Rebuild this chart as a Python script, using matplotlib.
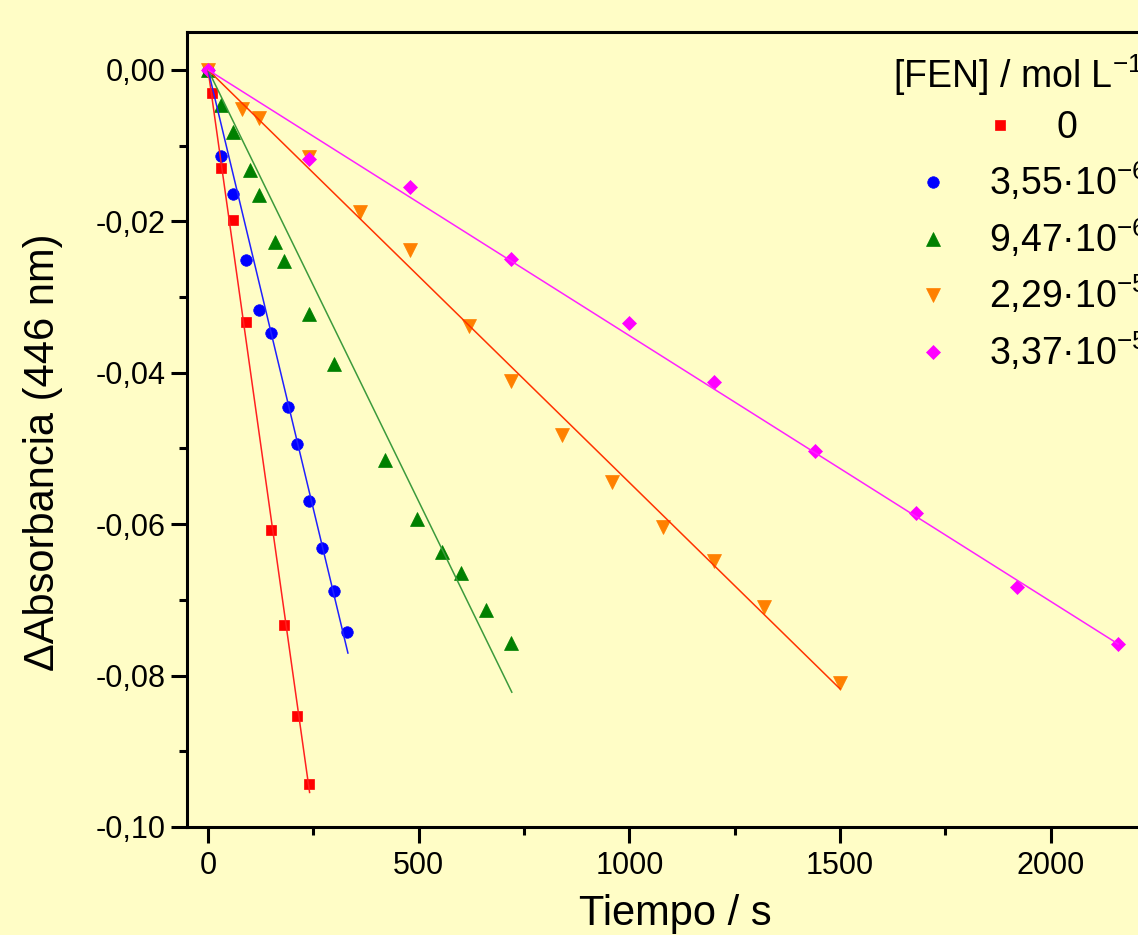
import matplotlib

matplotlib.use("Agg")
import matplotlib.pyplot as plt
from matplotlib.lines import Line2D
from matplotlib.ticker import FuncFormatter, MultipleLocator
import numpy as np

plt.rcParams["font.family"] = ["Liberation Sans", "DejaVu Sans"]
plt.rcParams["mathtext.fontset"] = "custom"
plt.rcParams["mathtext.rm"] = "Liberation Sans"
plt.rcParams["mathtext.default"] = "regular"

# data: time / s and delta absorbance
t_0 = [0, 10, 30, 60, 90, 150, 180, 210, 240]
a_0 = [0, -0.0030, -0.0129, -0.0198, -0.0333, -0.0608, -0.0733, -0.0853, -0.0943]

t_1 = [0, 30, 60, 90, 120, 150, 190, 210, 240, 270, 300, 330]
a_1 = [0, -0.0114, -0.0164, -0.0251, -0.0317, -0.0347, -0.0445, -0.0494,
       -0.0569, -0.0632, -0.0688, -0.0742]

t_2 = [0, 30, 60, 100, 120, 160, 180, 240, 300, 420, 495, 555, 600, 660, 720]
a_2 = [0, -0.0047, -0.0082, -0.0132, -0.0165, -0.0228, -0.0253, -0.0323,
       -0.0389, -0.0515, -0.0593, -0.0637, -0.0665, -0.0713, -0.0757]

t_3 = [0, 80, 120, 240, 360, 480, 620, 720, 840, 960, 1080, 1200, 1320, 1500]
a_3 = [0, -0.0052, -0.0063, -0.0115, -0.0188, -0.0238, -0.0338, -0.0411,
       -0.0482, -0.0544, -0.0604, -0.0649, -0.0710, -0.0810]

t_4 = [0, 240, 480, 720, 1000, 1200, 1440, 1680, 1920, 2160]
a_4 = [0, -0.0118, -0.0155, -0.0250, -0.0334, -0.0412, -0.0504, -0.0585,
       -0.0683, -0.0758]

# linear fits (through origin) and where each fit line stops
fit_slope = [-3.96e-4, -2.32e-4, -1.14e-4, -5.45e-5, -3.51e-5]
fit_end = [241, 332, 721, 1500, 2160]

labels = ["0", "3,55·10$^{-6}$", "9,47·10$^{-6}$", "2,29·10$^{-5}$", "3,37·10$^{-5}$"]
legend_title = "[FEN] / mol L$^{-1}$"

times = [t_0, t_1, t_2, t_3, t_4]
absor = [a_0, a_1, a_2, a_3, a_4]
marker_colors = ["#FF0000", "#0000FF", "#008000", "#FF8000", "#FF00FF"]
line_colors = ["#FF2020", "#2020FF", "#3C9A3C", "#FF3300", "#FF20FF"]
markers = ["s", "o", "^", "v", "D"]
msizes = [7.2, 8.3, 9.5, 9.5, 6.8]

bg = "#FFFDC6"
W, H = 1138, 935
fig = plt.figure(figsize=(W / 100, H / 100), dpi=100, facecolor=bg)
ax = fig.add_axes([187 / W, 108 / H, 990 / W, 795 / H], facecolor=bg)

for t, a, mc, lc, m, ms, k, te in zip(times, absor, marker_colors, line_colors,
                                       markers, msizes, fit_slope, fit_end):
    ax.plot(t, a, ls="none", marker=m, ms=ms, color=mc, mec=mc, mew=0.5, zorder=2)
    xf = np.array([0, te])
    ax.plot(xf, k * xf, color=lc, lw=1.1, zorder=3)

ax.set_xlim(-50, 2300)
ax.set_ylim(-0.10, 0.005)
ax.xaxis.set_major_locator(MultipleLocator(500))
ax.xaxis.set_minor_locator(MultipleLocator(250))
ax.yaxis.set_major_locator(MultipleLocator(0.02))
ax.yaxis.set_minor_locator(MultipleLocator(0.01))
ax.yaxis.set_major_formatter(FuncFormatter(
    lambda v, p: ("%.2f" % v).replace(".", ",").replace("-0,00", "0,00")))
ax.xaxis.set_major_formatter(FuncFormatter(lambda v, p: "%d" % v))

for s in ax.spines.values():
    s.set_linewidth(2.2)
ax.tick_params(which="both", direction="out", width=2.2, top=False, right=False)
ax.tick_params(which="major", length=11.5, labelsize=22)
ax.tick_params(axis="x", which="major", pad=6)
ax.tick_params(axis="y", which="major", pad=4)
ax.tick_params(which="minor", length=6)

ax.set_xlabel("Tiempo / s", fontsize=30)
ax.set_ylabel("ΔAbsorbancia (446 nm)", fontsize=30)
ax.xaxis.set_label_coords(0.493, -0.084)
ax.yaxis.set_label_coords(-0.125, 0.472)

# legend drawn by hand so it can run off the right edge like the original
fig.text(893 / W, 1 - 88 / H, legend_title, fontsize=27, va="baseline", ha="left")
leg_marker_x = [1000, 933, 933, 933, 933]
leg_text_x = [1057, 989, 989, 989, 989]
leg_base_y = [138, 195, 252, 308, 365]
for i in range(5):
    fig.add_artist(Line2D([leg_marker_x[i] / W], [1 - (leg_base_y[i] - 13) / H],
                          transform=fig.transFigure, ls="none", marker=markers[i],
                          ms=msizes[i], color=marker_colors[i], mec=marker_colors[i],
                          mew=0.5))
    fig.text(leg_text_x[i] / W, 1 - leg_base_y[i] / H, labels[i], fontsize=27,
             va="baseline", ha="left")

fig.savefig("out.png", dpi=100, facecolor=bg)
